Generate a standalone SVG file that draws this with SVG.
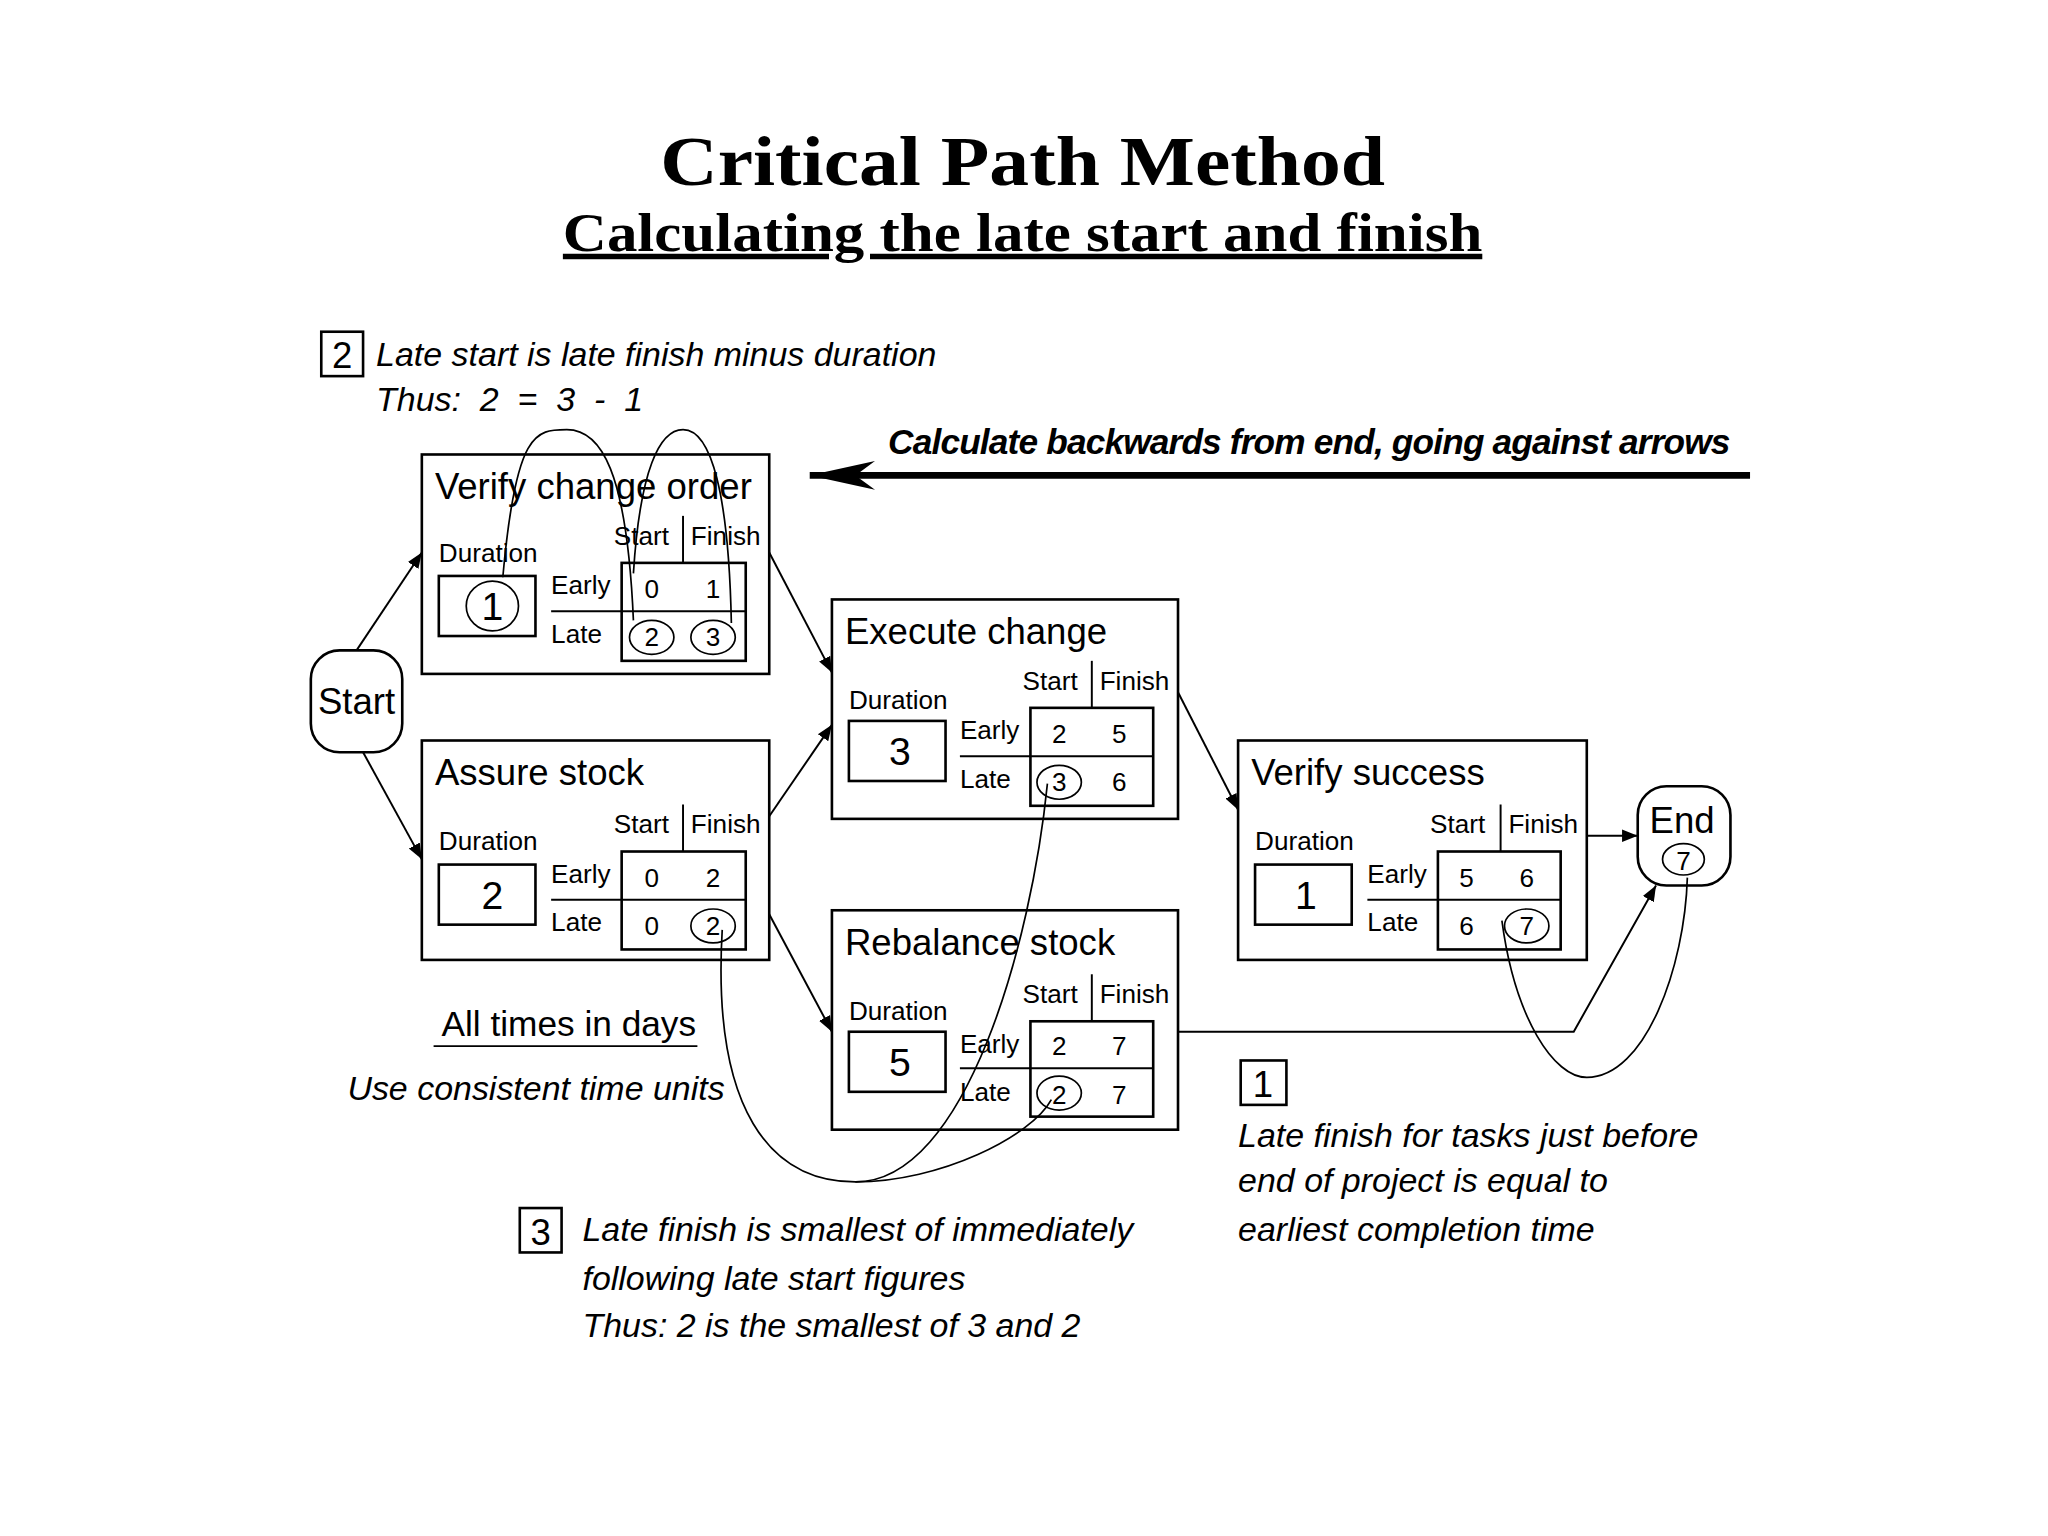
<svg xmlns="http://www.w3.org/2000/svg" width="2048" height="1536" viewBox="0 0 2048 1536">
<defs>
<style>
.b{fill:#fff;stroke:#000;stroke-width:2}
.l{fill:none;stroke:#000;stroke-width:1.5}
.c{fill:none;stroke:#000;stroke-width:1.3}
.t{font-family:"Liberation Sans Narrow","Liberation Sans",Arial,sans-serif;fill:#000}
.i{font-style:italic}
.h{font-family:"Liberation Serif","DejaVu Serif",serif;font-weight:bold;fill:#000;text-anchor:middle}
.m{text-anchor:middle}
</style>
<marker id="a" viewBox="0 0 10 10" refX="10" refY="5" markerWidth="12" markerHeight="12" markerUnits="userSpaceOnUse" orient="auto"><path d="M0,1 L10,5 L0,9 z" fill="#000"/></marker>
<marker id="big" viewBox="0 0 10 10" refX="10" refY="5" markerWidth="50" markerHeight="22" markerUnits="userSpaceOnUse" orient="auto" preserveAspectRatio="none"><path d="M0,0 L10,5 L0,10 L3,5 z" fill="#000"/></marker>
</defs>
<rect width="2048" height="1536" fill="#fff"/>
<g transform="scale(1.306)">
<text class="h" x="783" y="142" font-size="54" textLength="555" lengthAdjust="spacingAndGlyphs">Critical Path Method</text>
<text class="h" x="783" y="192" font-size="42" text-decoration="underline" textLength="704" lengthAdjust="spacingAndGlyphs">Calculating the late start and finish</text>

<g id="note2">
<rect class="b" x="246" y="254" width="32" height="34"/>
<text class="t m" x="262" y="282" font-size="28">2</text>
<text class="t i" x="288" y="280" font-size="26">Late start is late finish minus duration</text>
<text class="t i" x="288" y="315" font-size="26" xml:space="preserve">Thus:  2  =  3  -  1</text>
</g>
<g id="backwards">
<line x1="1340" y1="364" x2="620" y2="364" stroke="#000" stroke-width="5" marker-end="url(#big)"/>
<text class="t i" x="680" y="348" font-size="27" font-weight="bold" textLength="645">Calculate backwards from end, going against arrows</text>
</g>

<g id="start">
<rect class="b" x="238" y="498" width="70" height="78" rx="22"/>
<text class="t m" x="273" y="547" font-size="28">Start</text>
</g>
<g id="end">
<rect class="b" x="1254" y="602" width="71" height="76" rx="22"/>
<text class="t m" x="1288" y="638" font-size="28">End</text>
<ellipse class="c" cx="1289" cy="658" rx="16" ry="12"/>
<text class="t m" x="1289" y="666" font-size="20">7</text>
</g>

<g id="verify-change-order" transform="translate(323,348)">
<rect class="b" width="266" height="168"/>
<text class="t" x="10" y="34" font-size="28">Verify change order</text>
<text class="t" x="13" y="82" font-size="20">Duration</text>
<rect class="b" x="13" y="93" width="74" height="46"/>
<text class="t m" x="54" y="127" font-size="30">1</text>
<ellipse class="c" cx="54" cy="116" rx="20" ry="19"/>
<text class="t" x="147" y="69" font-size="20">Start</text><text class="t" x="206" y="69" font-size="20">Finish</text>
<line class="l" x1="200" y1="47" x2="200" y2="158"/>
<text class="t" x="99" y="107" font-size="20">Early</text><text class="t" x="99" y="144" font-size="20">Late</text>
<rect class="b" x="153" y="83" width="95" height="75" fill="none"/>
<line class="l" x1="99" y1="120" x2="248" y2="120"/>
<text class="t m" x="176" y="110" font-size="20">0</text><text class="t m" x="223" y="110" font-size="20">1</text>
<text class="t m" x="176" y="147" font-size="20">2</text><text class="t m" x="223" y="147" font-size="20">3</text>
<ellipse class="c" cx="176" cy="140" rx="17" ry="13"/><ellipse class="c" cx="223" cy="140" rx="17" ry="13"/>
</g>

<g id="assure-stock" transform="translate(323,567)">
<rect class="b" width="266" height="168"/>
<text class="t" x="10" y="34" font-size="28">Assure stock</text>
<text class="t" x="13" y="84" font-size="20">Duration</text>
<rect class="b" x="13" y="95" width="74" height="46"/>
<text class="t m" x="54" y="129" font-size="30">2</text>
<text class="t" x="147" y="71" font-size="20">Start</text><text class="t" x="206" y="71" font-size="20">Finish</text>
<line class="l" x1="200" y1="49" x2="200" y2="160"/>
<text class="t" x="99" y="109" font-size="20">Early</text><text class="t" x="99" y="146" font-size="20">Late</text>
<rect class="b" x="153" y="85" width="95" height="75" fill="none"/>
<line class="l" x1="99" y1="122" x2="248" y2="122"/>
<text class="t m" x="176" y="112" font-size="20">0</text><text class="t m" x="223" y="112" font-size="20">2</text>
<text class="t m" x="176" y="149" font-size="20">0</text><text class="t m" x="223" y="149" font-size="20">2</text>
<ellipse class="c" cx="223" cy="142" rx="17" ry="13"/>
</g>

<g id="execute-change" transform="translate(637,459)">
<rect class="b" width="265" height="168"/>
<text class="t" x="10" y="34" font-size="28">Execute change</text>
<text class="t" x="13" y="84" font-size="20">Duration</text>
<rect class="b" x="13" y="93" width="74" height="46"/>
<text class="t m" x="52" y="127" font-size="30">3</text>
<text class="t" x="146" y="69" font-size="20">Start</text><text class="t" x="205" y="69" font-size="20">Finish</text>
<line class="l" x1="199" y1="47" x2="199" y2="158"/>
<text class="t" x="98" y="107" font-size="20">Early</text><text class="t" x="98" y="144" font-size="20">Late</text>
<rect class="b" x="152" y="83" width="94" height="75" fill="none"/>
<line class="l" x1="98" y1="120" x2="246" y2="120"/>
<text class="t m" x="174" y="110" font-size="20">2</text><text class="t m" x="220" y="110" font-size="20">5</text>
<text class="t m" x="174" y="147" font-size="20">3</text><text class="t m" x="220" y="147" font-size="20">6</text>
<ellipse class="c" cx="174" cy="140" rx="17" ry="13"/>
</g>

<g id="rebalance-stock" transform="translate(637,697)">
<rect class="b" width="265" height="168"/>
<text class="t" x="10" y="34" font-size="28">Rebalance stock</text>
<text class="t" x="13" y="84" font-size="20">Duration</text>
<rect class="b" x="13" y="93" width="74" height="46"/>
<text class="t m" x="52" y="127" font-size="30">5</text>
<text class="t" x="146" y="71" font-size="20">Start</text><text class="t" x="205" y="71" font-size="20">Finish</text>
<line class="l" x1="199" y1="49" x2="199" y2="158"/>
<text class="t" x="98" y="109" font-size="20">Early</text><text class="t" x="98" y="146" font-size="20">Late</text>
<rect class="b" x="152" y="85" width="94" height="73" fill="none"/>
<line class="l" x1="98" y1="121" x2="246" y2="121"/>
<text class="t m" x="174" y="111" font-size="20">2</text><text class="t m" x="220" y="111" font-size="20">7</text>
<text class="t m" x="174" y="148" font-size="20">2</text><text class="t m" x="220" y="148" font-size="20">7</text>
<ellipse class="c" cx="174" cy="140" rx="17" ry="13"/>
</g>

<g id="verify-success" transform="translate(948,567)">
<rect class="b" width="267" height="168"/>
<text class="t" x="10" y="34" font-size="28">Verify success</text>
<text class="t" x="13" y="84" font-size="20">Duration</text>
<rect class="b" x="13" y="95" width="74" height="46"/>
<text class="t m" x="52" y="129" font-size="30">1</text>
<text class="t" x="147" y="71" font-size="20">Start</text><text class="t" x="207" y="71" font-size="20">Finish</text>
<line class="l" x1="201" y1="49" x2="201" y2="160"/>
<text class="t" x="99" y="109" font-size="20">Early</text><text class="t" x="99" y="146" font-size="20">Late</text>
<rect class="b" x="153" y="85" width="94" height="75" fill="none"/>
<line class="l" x1="99" y1="122" x2="247" y2="122"/>
<text class="t m" x="175" y="112" font-size="20">5</text><text class="t m" x="221" y="112" font-size="20">6</text>
<text class="t m" x="175" y="149" font-size="20">6</text><text class="t m" x="221" y="149" font-size="20">7</text>
<ellipse class="c" cx="221" cy="142" rx="17" ry="13"/>
</g>

<g id="connectors">
<line class="l" x1="273" y1="498" x2="323" y2="423" marker-end="url(#a)"/>
<line class="l" x1="278" y1="576" x2="323" y2="658" marker-end="url(#a)"/>
<line class="l" x1="589" y1="423" x2="637" y2="515" marker-end="url(#a)"/>
<line class="l" x1="589" y1="625" x2="637" y2="555" marker-end="url(#a)"/>
<line class="l" x1="589" y1="700" x2="637" y2="790" marker-end="url(#a)"/>
<line class="l" x1="902" y1="530" x2="948" y2="620" marker-end="url(#a)"/>
<line class="l" x1="1215" y1="640" x2="1254" y2="640" marker-end="url(#a)"/>
<polyline class="l" points="902,790 1205,790 1268,678" marker-end="url(#a)"/>
<path class="c" d="M385,442 C395,330 410,329 434,329 C460,329 480,360 485,475"/>
<path class="c" d="M485,439 C490,360 505,329 523,329 C545,329 558,380 560,477"/>
<path class="c" d="M553,712 C545,850 590,905 655,905 C740,905 790,720 802,600"/>
<path class="c" d="M655,905 C720,905 790,870 805,842"/>
<path class="c" d="M1150,705 C1160,780 1190,825 1215,825 C1260,825 1290,740 1292,672"/>
</g>

<g id="labels">
<text class="t" x="338" y="793" font-size="27">All times in days</text>
<line class="l" x1="332" y1="801" x2="534" y2="801"/>
<text class="t i" x="266" y="842" font-size="26">Use consistent time units</text>
</g>
<g id="note1">
<rect class="b" x="950" y="812" width="35" height="34"/>
<text class="t m" x="967" y="840" font-size="28">1</text>
<text class="t i" x="948" y="878" font-size="26">Late finish for tasks just before</text>
<text class="t i" x="948" y="913" font-size="26">end of project is equal to</text>
<text class="t i" x="948" y="950" font-size="26">earliest completion time</text>
</g>
<g id="note3">
<rect class="b" x="398" y="925" width="32" height="34"/>
<text class="t m" x="414" y="953" font-size="28">3</text>
<text class="t i" x="446" y="950" font-size="26">Late finish is smallest of immediately</text>
<text class="t i" x="446" y="988" font-size="26">following late start figures</text>
<text class="t i" x="446" y="1024" font-size="26">Thus: 2 is the smallest of 3 and 2</text>
</g>
</g>
</svg>
